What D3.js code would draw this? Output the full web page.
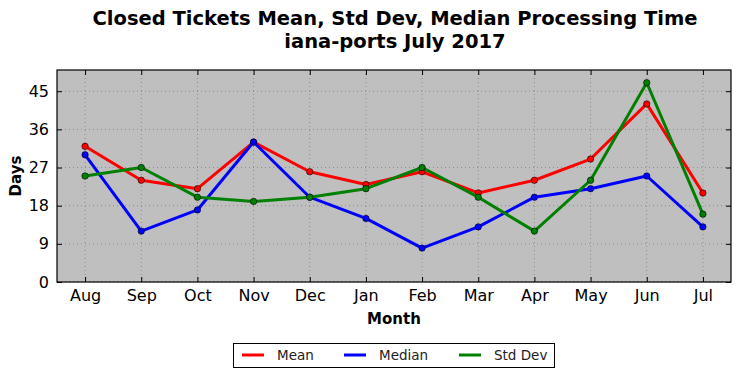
<!DOCTYPE html>
<html><head><meta charset="utf-8">
<script src="https://cdn.jsdelivr.net/npm/d3@7"></script>
<style>body{margin:0;background:#fff}svg{display:block}text{font-family:"DejaVu Sans",sans-serif}</style>
</head><body><svg id="c" width="741" height="378"></svg>
<script>
const months = ["Aug","Sep","Oct","Nov","Dec","Jan","Feb","Mar","Apr","May","Jun","Jul"];
const meanVals = [32,24,22,33,26,23,26,21,24,29,42,21];
const medianVals = [30,12,17,33,20,15,8,13,20,22,25,13];
const stdVals = [25,27,20,19,20,22,27,20,12,24,47,16];
const yTicks = [0,9,18,27,36,45];
const seriesNames = ["Mean","Median","Std Dev"];
const seriesColors = ["#ff0000","#0000ff","#008000"];

const svg = d3.select("#c");
const L=57, R=731, T=70, B=282;
const x = d3.scaleLinear().domain([-0.5, months.length-0.5]).range([L,R]);
const y = d3.scaleLinear().domain([0,50]).range([B,T]);

svg.append("rect").attr("x",L).attr("y",T).attr("width",R-L).attr("height",B-T).attr("fill","#bfbfbf");

// grid
const g = svg.append("g");
months.forEach((m,i)=>{
  g.append("line").attr("x1",x(i)).attr("x2",x(i)).attr("y1",T).attr("y2",B)
   .attr("stroke","#808080").attr("stroke-width",0.8).attr("stroke-dasharray","1,3");
});
yTicks.forEach(t=>{
  g.append("line").attr("x1",L).attr("x2",R).attr("y1",y(t)).attr("y2",y(t))
   .attr("stroke","#808080").attr("stroke-width",0.8).attr("stroke-dasharray","1,3");
});

// axes with inward ticks
const xAxisB = d3.axisBottom(x).tickValues(d3.range(months.length)).tickFormat(i=>months[i]).tickSizeInner(-5).tickSizeOuter(0).tickPadding(8);
const xAxisT = d3.axisTop(x).tickValues(d3.range(months.length)).tickFormat("").tickSizeInner(-5).tickSizeOuter(0);
const yAxisL = d3.axisLeft(y).tickValues(yTicks).tickSizeInner(-5).tickSizeOuter(0).tickPadding(8);
const yAxisR = d3.axisRight(y).tickValues(yTicks).tickFormat("").tickSizeInner(-5).tickSizeOuter(0);
function styleAx(sel){sel.select(".domain").remove();sel.selectAll("line").attr("stroke","#000");sel.selectAll("text").attr("font-size",16).attr("fill","#000").attr("font-family","DejaVu Sans");}
svg.append("g").attr("transform",`translate(0,${B})`).call(xAxisB).call(styleAx);
svg.append("g").attr("transform",`translate(0,${T})`).call(xAxisT).call(styleAx);
svg.append("g").attr("transform",`translate(${L},0)`).call(yAxisL).call(styleAx);
svg.append("g").attr("transform",`translate(${R},0)`).call(yAxisR).call(styleAx);

// lines
const line = d3.line().x((d,i)=>x(i)).y(d=>y(d));
[meanVals,medianVals,stdVals].forEach((vals,k)=>{
  svg.append("path").datum(vals).attr("d",line).attr("fill","none")
    .attr("stroke",seriesColors[k]).attr("stroke-width",3).attr("stroke-linejoin","round");
  svg.selectAll(null).data(vals).enter().append("circle")
    .attr("cx",(d,i)=>x(i)).attr("cy",d=>y(d)).attr("r",3.2)
    .attr("fill",seriesColors[k]).attr("stroke","#000").attr("stroke-width",0.6);
});

svg.append("rect").attr("x",L).attr("y",T).attr("width",R-L).attr("height",B-T).attr("fill","none").attr("stroke","#000").attr("stroke-width",1.2);

// titles
svg.append("text").attr("x",395).attr("y",25).attr("text-anchor","middle").attr("font-size",19.5).attr("font-weight","bold").text("Closed Tickets Mean, Std Dev, Median Processing Time");
svg.append("text").attr("x",395).attr("y",48).attr("text-anchor","middle").attr("font-size",19.5).attr("font-weight","bold").text("iana-ports July 2017");
svg.append("text").attr("x",394).attr("y",324).attr("text-anchor","middle").attr("font-size",15).attr("font-weight","bold").text("Month");
svg.append("text").attr("transform","translate(21,176) rotate(-90)").attr("text-anchor","middle").attr("font-size",15).attr("font-weight","bold").text("Days");

// legend
const lg = svg.append("g");
lg.append("rect").attr("x",233.5).attr("y",343.5).attr("width",321).attr("height",24).attr("fill","#fff").attr("stroke","#000").attr("stroke-width",1);
const lx=[242,344,459];
seriesNames.forEach((n,k)=>{
  lg.append("line").attr("x1",lx[k]).attr("x2",lx[k]+22).attr("y1",355).attr("y2",355).attr("stroke",seriesColors[k]).attr("stroke-width",3);
  lg.append("text").attr("x",lx[k]+35).attr("y",360).attr("font-size",13.5).attr("fill","#222").text(n);
});
</script></body></html>
